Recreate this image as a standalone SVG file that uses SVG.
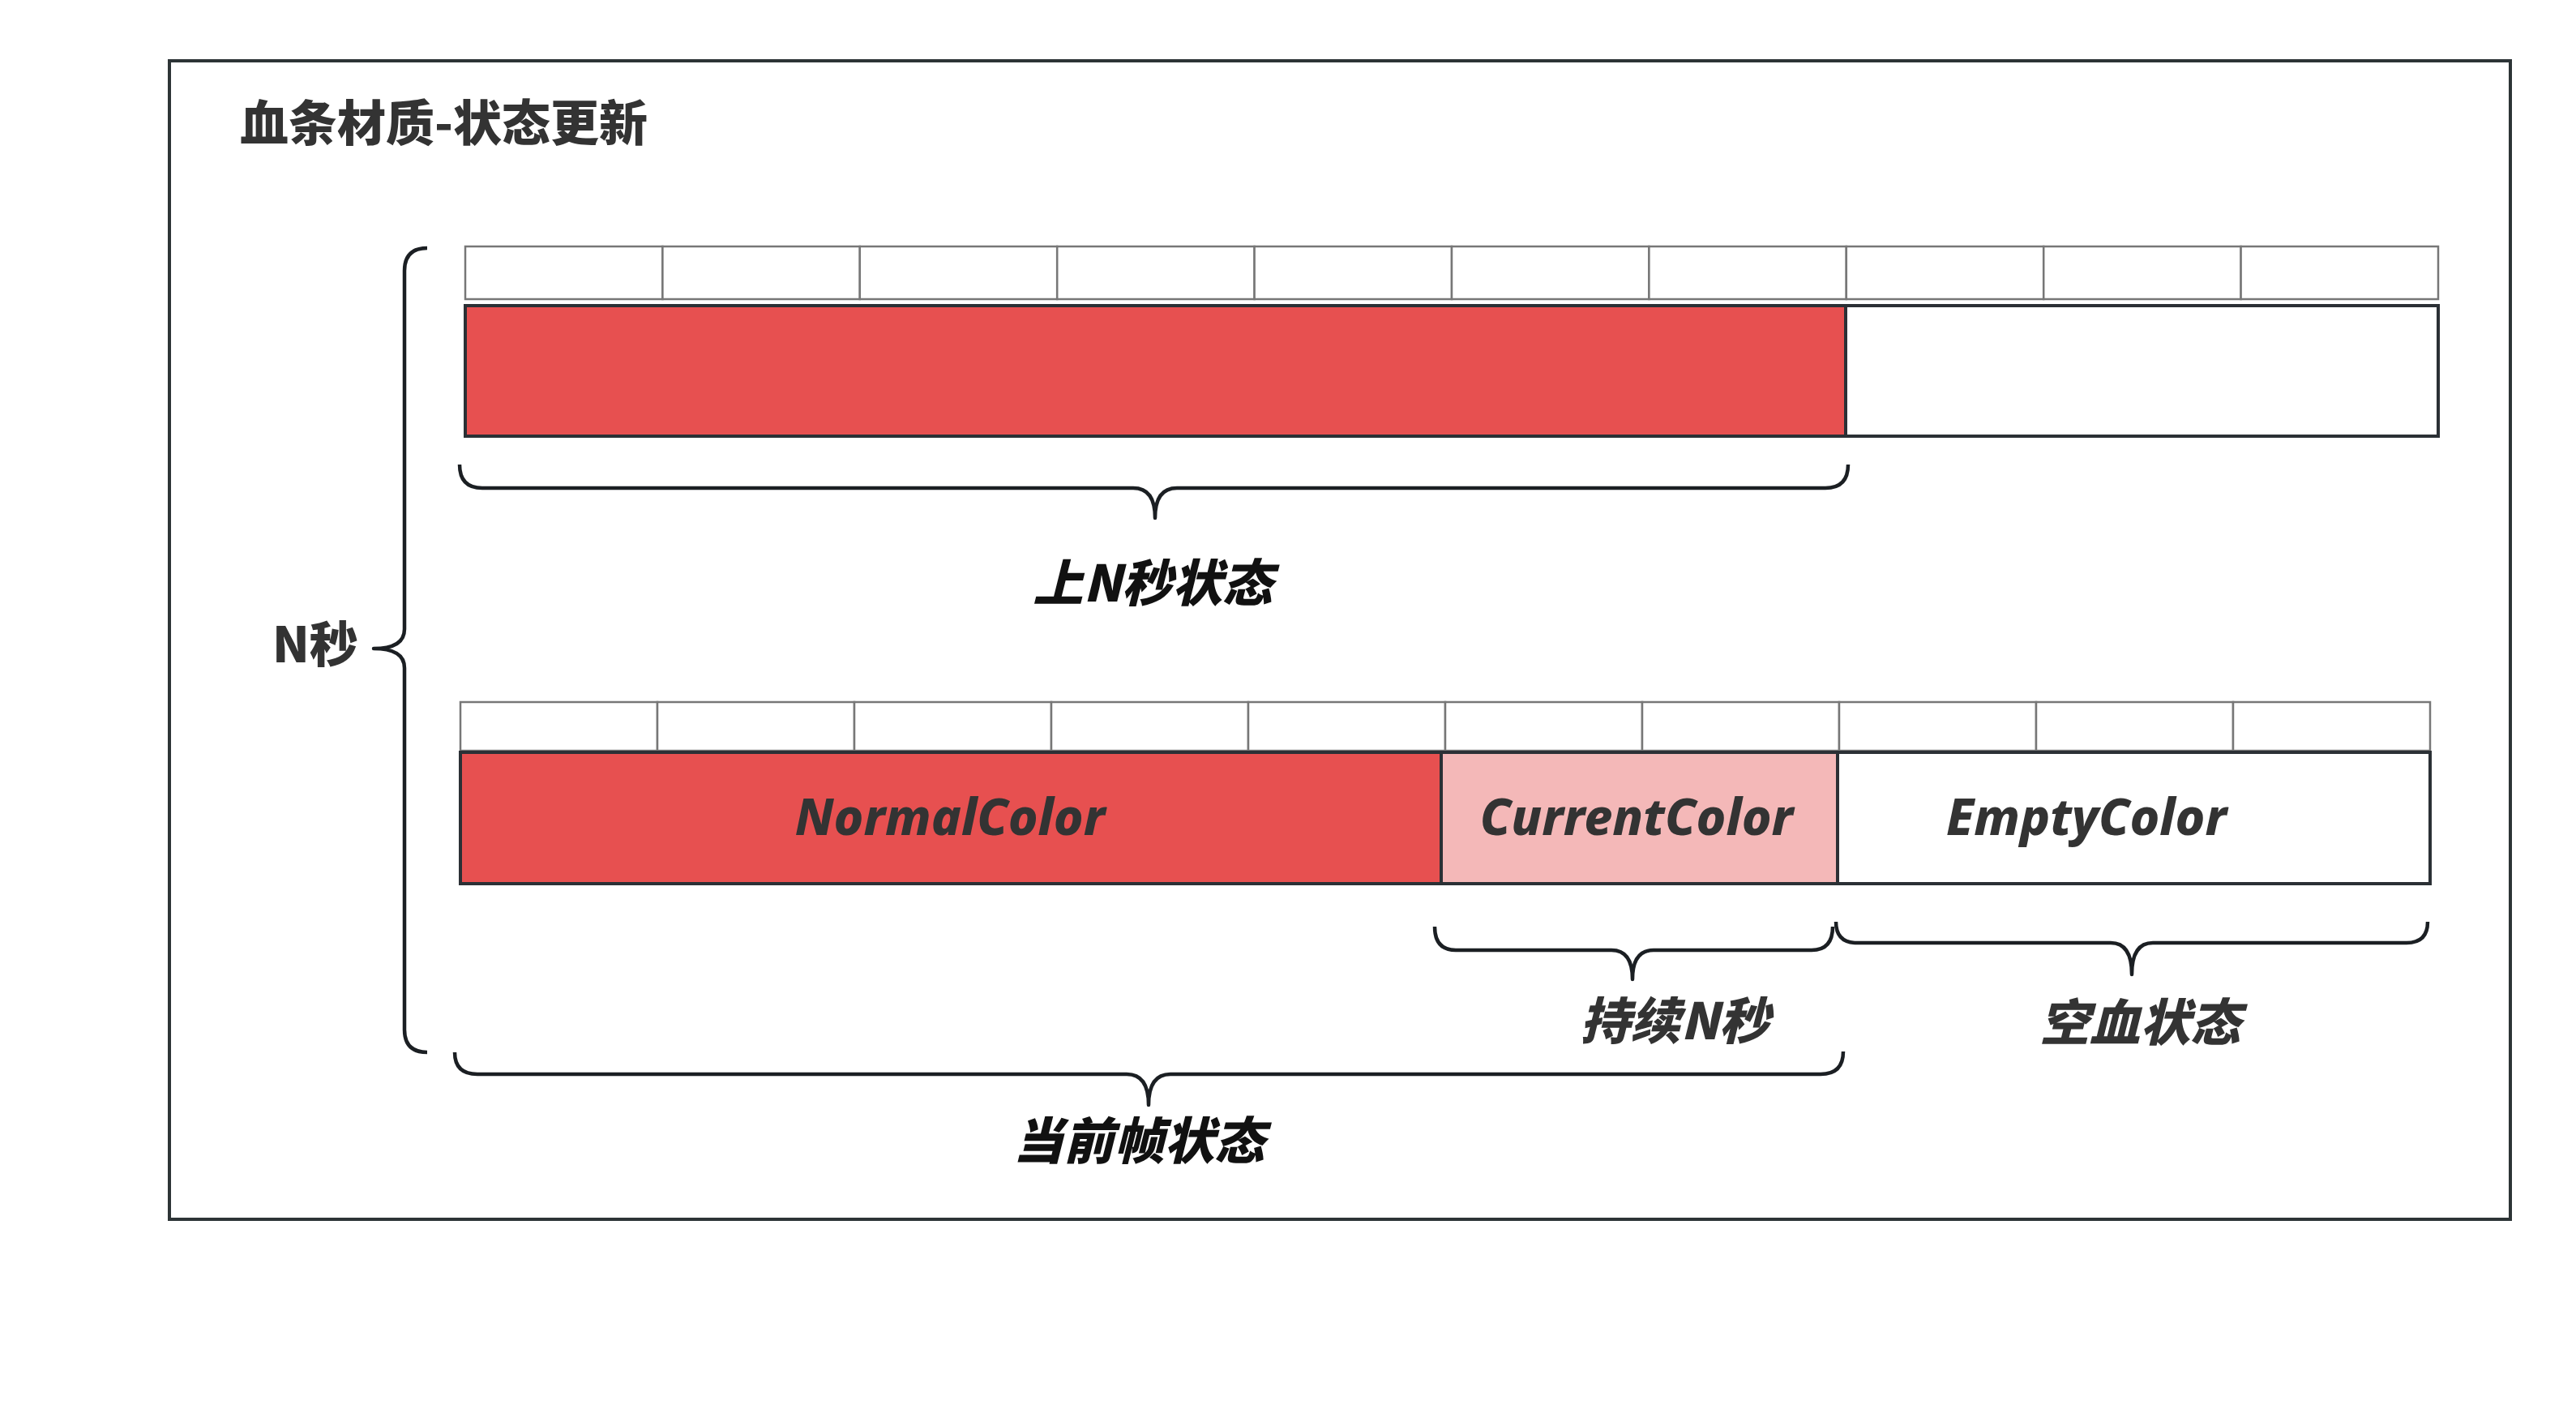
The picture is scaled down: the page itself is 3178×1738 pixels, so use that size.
<svg xmlns="http://www.w3.org/2000/svg" width="3178" height="1738" viewBox="0 0 3178 1738">
<defs>
<style>
.frame{fill:#ffffff;stroke:#2d3436;stroke-width:4}
.cell{fill:#ffffff;stroke:#777777;stroke-width:2.5}
.bar{stroke:#2b3035;stroke-width:4}
.red{fill:#e75050}
.pink{fill:#f4b8b8}
.white{fill:#ffffff}
.brace{fill:none;stroke:#1b1f23;stroke-width:4.5;stroke-linejoin:round;stroke-linecap:butt}
.title{font-family:"Noto Sans CJK SC","Noto Sans",sans-serif;font-weight:900;font-size:60px;fill:#333333}
.lbl{font-family:"Noto Sans","Noto Sans CJK SC",sans-serif;font-weight:800;font-style:italic;font-size:62px;fill:#333333;text-anchor:middle}
.blbl{font-family:"Noto Sans CJK SC","Noto Sans",sans-serif;font-weight:900;font-style:italic;font-size:62px;fill:#111111;text-anchor:middle}
.gray{fill:#333333}
</style>
</defs>
<rect x="0" y="0" width="3178" height="1738" fill="#ffffff"/>
<g id="frame">
<rect class="frame" x="209" y="75" width="2888" height="1429"/>
<text class="title" x="296" y="174">血条材质-状态更新</text>
</g>
<g id="upper-cells">
<rect class="cell" x="574" y="304" width="243.4" height="65"/>
<rect class="cell" x="817.4" y="304" width="243.4" height="65"/>
<rect class="cell" x="1060.8" y="304" width="243.4" height="65"/>
<rect class="cell" x="1304.2" y="304" width="243.4" height="65"/>
<rect class="cell" x="1547.6" y="304" width="243.4" height="65"/>
<rect class="cell" x="1791" y="304" width="243.4" height="65"/>
<rect class="cell" x="2034.4" y="304" width="243.4" height="65"/>
<rect class="cell" x="2277.8" y="304" width="243.4" height="65"/>
<rect class="cell" x="2521.2" y="304" width="243.4" height="65"/>
<rect class="cell" x="2764.6" y="304" width="243.4" height="65"/>
</g>
<g id="upper-bar">
<rect class="bar red" x="574" y="377" width="1703" height="161"/>
<rect class="bar white" x="2277" y="377" width="731" height="161"/>
</g>
<g id="lower-cells">
<rect class="cell" x="568" y="866" width="243" height="60"/>
<rect class="cell" x="811" y="866" width="243" height="60"/>
<rect class="cell" x="1054" y="866" width="243" height="60"/>
<rect class="cell" x="1297" y="866" width="243" height="60"/>
<rect class="cell" x="1540" y="866" width="243" height="60"/>
<rect class="cell" x="1783" y="866" width="243" height="60"/>
<rect class="cell" x="2026" y="866" width="243" height="60"/>
<rect class="cell" x="2269" y="866" width="243" height="60"/>
<rect class="cell" x="2512" y="866" width="243" height="60"/>
<rect class="cell" x="2755" y="866" width="243" height="60"/>
</g>
<g id="normal-color">
<rect class="bar red" x="568" y="928" width="1210" height="162"/>
<text class="lbl" x="1172" y="1030">NormalColor</text>
</g>
<g id="current-color">
<rect class="bar pink" x="1778" y="928" width="489" height="162"/>
<text class="lbl" x="2019" y="1030">CurrentColor</text>
</g>
<g id="empty-color">
<rect class="bar white" x="2267" y="928" width="731" height="162"/>
<text class="lbl" x="2574" y="1030">EmptyColor</text>
</g>
<g id="connectors">
<path class="brace" d="M527,306 Q499,306 499,334 L499,776 Q499,800 461,800 Q499,800 499,824 L499,1270 Q499,1298 527,1298"/>
<path class="brace" d="M567,573 Q567,602 595,602 L1398,602 Q1425,602 1425,639 Q1425,602 1452,602 L2252,602 Q2280,602 2280,573"/>
<path class="brace" d="M1770,1143 Q1770,1172 1796,1172 L1988,1172 Q2014,1172 2014,1208 Q2014,1172 2040,1172 L2235,1172 Q2261,1172 2261,1143"/>
<path class="brace" d="M2265,1137 Q2265,1163 2291,1163 L2604,1163 Q2630,1163 2630,1202 Q2630,1163 2656,1163 L2969,1163 Q2995,1163 2995,1137"/>
<path class="brace" d="M561,1298 Q561,1325 589,1325 L1390,1325 Q1417,1325 1417,1363 Q1417,1325 1444,1325 L2246,1325 Q2274,1325 2274,1297"/>
</g>
<g id="label-n-seconds">
<text class="title" x="336" y="817">N秒</text>
</g>
<g id="label-last-n">
<text class="blbl" x="1422" y="742">上N秒状态</text>
</g>
<g id="label-last-n-sec">
<text class="blbl gray" x="2066" y="1282">持续N秒</text>
</g>
<g id="label-empty">
<text class="blbl gray" x="2640" y="1284">空血状态</text>
</g>
<g id="label-current">
<text class="blbl" x="1405" y="1430">当前帧状态</text>
</g>
</svg>
